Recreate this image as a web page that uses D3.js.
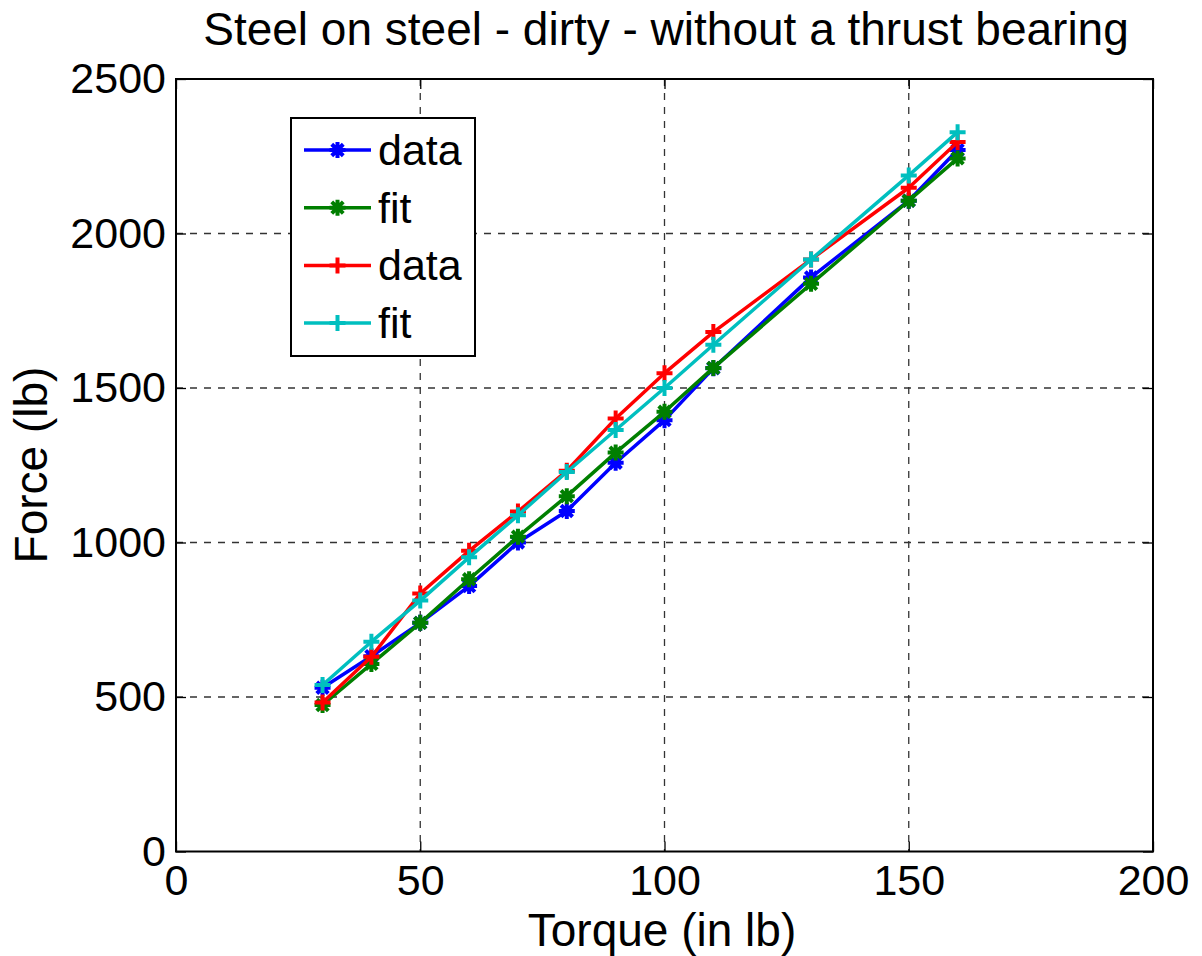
<!DOCTYPE html>
<html>
<head>
<meta charset="utf-8">
<script src="https://cdnjs.cloudflare.com/ajax/libs/d3/7.8.5/d3.min.js"></script>
<style>
  body { margin: 0; background: #fff; }
  svg text { font-family: "Liberation Sans", Arial, sans-serif; fill: #000; }
</style>
</head>
<body>
<svg id="chart" width="1202" height="956"></svg>
<script>
// Torque values (in lb)
const torque = [30, 40, 50, 60, 70, 80, 90, 100, 110, 130, 150, 160]

// Force values (lb)
const data1 = [530, 632, 740, 859, 1000, 1102, 1258, 1396, 1564, 1858, 2106, 2270]
const fit1 = [474, 607, 740, 881, 1019, 1150, 1291, 1423, 1565, 1837, 2106, 2243]
const data2 = [482, 630, 835, 973, 1100, 1232, 1401, 1548, 1681, 1916, 2148, 2296]
const fit2 = [539, 679, 812, 952, 1088, 1228, 1364, 1500, 1640, 1916, 2188, 2328]

const xTicks = [0, 50, 100, 150, 200]
const yTicks = [0, 500, 1000, 1500, 2000, 2500]

const series = [
    { name: "data", values: data1, color: "#0000ff", marker: "star" },
    { name: "fit", values: fit1, color: "#007f00", marker: "star" },
    { name: "data", values: data2, color: "#ff0000", marker: "plus" },
    { name: "fit", values: fit2, color: "#00bfbf", marker: "plus" },
]

const svg = d3.select("#chart")
const margin = { left: 176, top: 79, right: 1153, bottom: 851.5 }

const x = d3.scaleLinear().domain([0, 200]).range([margin.left, margin.right])
const y = d3.scaleLinear().domain([0, 2500]).range([margin.bottom, margin.top])

// Grid
const grid = svg.append("g").attr("id", "grid")
grid.selectAll(".vgrid")
    .data(xTicks.slice(1, -1))
    .enter()
    .append("line")
    .attr("x1", d => x(d)).attr("x2", d => x(d))
    .attr("y1", margin.top).attr("y2", margin.bottom)
grid.selectAll(".hgrid")
    .data(yTicks.slice(1, -1))
    .enter()
    .append("line")
    .attr("x1", margin.left).attr("x2", margin.right)
    .attr("y1", d => y(d)).attr("y2", d => y(d))
grid.selectAll("line")
    .attr("stroke", "#333")
    .attr("stroke-width", 1.3)
    .attr("stroke-dasharray", "7,7")

// Axes with inner ticks (matlab style box)
const tickLen = 10
const fmt = d3.format("d")
const axisG = svg.append("g").attr("id", "axes")
axisG.append("g")
    .attr("transform", `translate(0,${margin.bottom})`)
    .call(d3.axisBottom(x).tickValues(xTicks).tickSizeInner(-tickLen).tickSizeOuter(0).tickPadding(13).tickFormat(fmt))
axisG.append("g")
    .attr("transform", `translate(0,${margin.top})`)
    .call(d3.axisTop(x).tickValues(xTicks).tickSizeInner(-tickLen).tickSizeOuter(0).tickFormat(""))
axisG.append("g")
    .attr("transform", `translate(${margin.left},0)`)
    .call(d3.axisLeft(y).tickValues(yTicks).tickSizeInner(-tickLen).tickSizeOuter(0).tickPadding(10).tickFormat(fmt))
axisG.append("g")
    .attr("transform", `translate(${margin.right},0)`)
    .call(d3.axisRight(y).tickValues(yTicks).tickSizeInner(-tickLen).tickSizeOuter(0).tickFormat(""))
axisG.selectAll(".domain").remove()
axisG.selectAll(".tick line").attr("stroke", "#000").attr("stroke-width", 1.3)
axisG.selectAll(".tick text")
    .style("font-size", "43px")
    .attr("fill", "#000")

svg.append("rect")
    .attr("x", margin.left).attr("y", margin.top)
    .attr("width", margin.right - margin.left)
    .attr("height", margin.bottom - margin.top)
    .attr("fill", "none").attr("stroke", "#000").attr("stroke-width", 2)

// Marker paths
const markerPath = (type, s) => {
    if (type == "plus")
        return `M${-s},0H${s}M0,${-s}V${s}`
    const d = s * 0.72
    return `M${-s},0H${s}M0,${-s}V${s}M${-d},${-d}L${d},${d}M${-d},${d}L${d},${-d}`
}

// Lines
const line = d3.line()
    .x((d, i) => x(torque[i]))
    .y(d => y(d))

const plotG = svg.append("g").attr("id", "series")
series.forEach(s => {
    const g = plotG.append("g")
    g.append("path")
        .datum(s.values)
        .attr("d", line)
        .attr("fill", "none")
        .attr("stroke", s.color)
        .attr("stroke-width", 3.5)
        .attr("stroke-linejoin", "round")
    g.selectAll(".mk")
        .data(s.values)
        .enter()
        .append("path")
        .attr("transform", (d, i) => `translate(${x(torque[i])},${y(d)})`)
        .attr("d", markerPath(s.marker, 8))
        .attr("stroke", s.color)
        .attr("stroke-width", 4)
        .attr("fill", "none")
})

// Legend
const legend = svg.append("g").attr("id", "legend")
legend.append("rect")
    .attr("x", 291).attr("y", 118)
    .attr("width", 184).attr("height", 238)
    .attr("fill", "#fff").attr("stroke", "#000").attr("stroke-width", 2)
series.forEach((s, i) => {
    const ly = 150 + i * 57.7
    legend.append("line")
        .attr("x1", 304).attr("x2", 371)
        .attr("y1", ly).attr("y2", ly)
        .attr("stroke", s.color).attr("stroke-width", 3.5)
    legend.append("path")
        .attr("transform", `translate(337.5,${ly})`)
        .attr("d", markerPath(s.marker, 8))
        .attr("stroke", s.color).attr("stroke-width", 4)
    legend.append("text")
        .attr("x", 378).attr("y", ly + 15)
        .style("font-size", "43px")
        .text(s.name)
})

// Title and axis labels
svg.append("text")
    .attr("x", 666).attr("y", 45)
    .attr("text-anchor", "middle")
    .style("font-size", "46px")
    .text("Steel on steel - dirty - without a thrust bearing")
svg.append("text")
    .attr("x", 662).attr("y", 946)
    .attr("text-anchor", "middle")
    .style("font-size", "46px")
    .text("Torque (in lb)")
svg.append("text")
    .attr("transform", "translate(47,465) rotate(-90)")
    .attr("text-anchor", "middle")
    .style("font-size", "46px")
    .text("Force (lb)")
</script>
</body>
</html>
